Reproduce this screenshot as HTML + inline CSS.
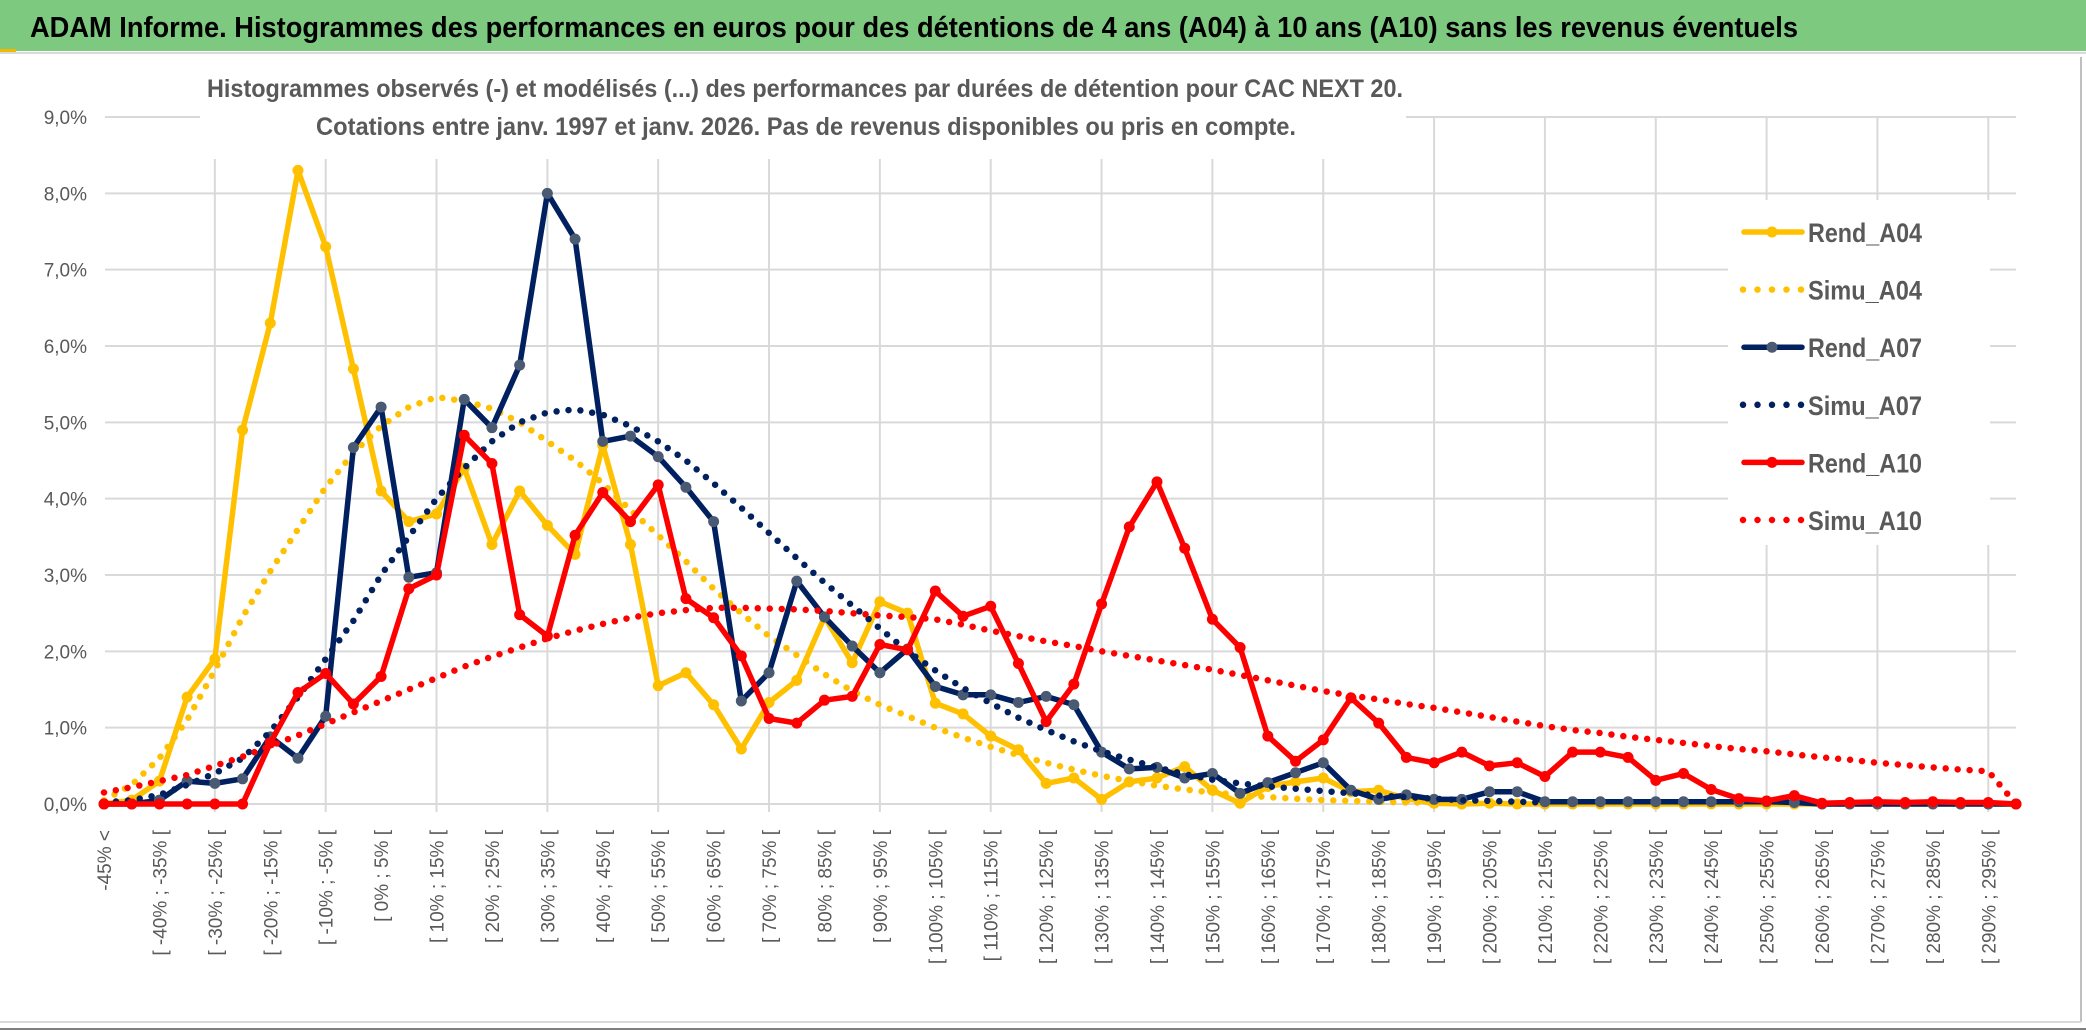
<!DOCTYPE html>
<html><head><meta charset="utf-8"><style>
html,body{margin:0;padding:0;background:#fff;}
svg{display:block;}
text{font-family:"Liberation Sans",sans-serif;}
</style></head><body>
<svg id="chart" width="2086" height="1031" viewBox="0 0 2086 1031" xmlns="http://www.w3.org/2000/svg">
<rect x="0" y="0" width="2086" height="1031" fill="#fff"/>
<rect x="0" y="0" width="2086" height="51" fill="#7dc97f"/>
<rect x="0" y="49" width="16" height="3" fill="#f2b800"/>
<text x="30" y="37" font-size="29" font-weight="bold" fill="#000" textLength="1768" lengthAdjust="spacingAndGlyphs">ADAM Informe. Histogrammes des performances en euros pour des détentions de 4 ans (A04) à 10 ans (A10) sans les revenus éventuels</text>
<line x1="0" y1="53" x2="2086" y2="53" stroke="#d9d9d9" stroke-width="2"/>
<line x1="2081" y1="57" x2="2081" y2="1022" stroke="#bfbfbf" stroke-width="2"/>
<line x1="0" y1="1022" x2="2081" y2="1022" stroke="#d9d9d9" stroke-width="2"/>
<line x1="0" y1="1029" x2="2086" y2="1029" stroke="#7f7f7f" stroke-width="2"/>
<g id="grid"></g>
<rect x="200" y="60" width="1206" height="99" fill="#fff"/>
<g id="ylabels"></g>
<g id="xlabels"></g>
<g id="series"></g>
<text x="805" y="97" font-size="25" font-weight="bold" fill="#595959" text-anchor="middle" textLength="1196" lengthAdjust="spacingAndGlyphs">Histogrammes observés (-) et modélisés (...) des performances par durées de détention pour CAC NEXT 20.</text>
<text x="806" y="135" font-size="25" font-weight="bold" fill="#595959" text-anchor="middle" textLength="980" lengthAdjust="spacingAndGlyphs">Cotations entre janv. 1997 et janv. 2026. Pas de revenus disponibles ou pris en compte.</text>
<rect x="1728" y="200" width="262" height="345" fill="#fff"/>
<g id="legend"></g>
</svg>
<script>
const categories = ["-45% <","[ -45% ; -40% [","[ -40% ; -35% [","[ -35% ; -30% [","[ -30% ; -25% [","[ -25% ; -20% [","[ -20% ; -15% [","[ -15% ; -10% [","[ -10% ; -5% [","[ -5% ; 0% [",
"[ 0% ; 5% [","[ 5% ; 10% [","[ 10% ; 15% [","[ 15% ; 20% [","[ 20% ; 25% [","[ 25% ; 30% [","[ 30% ; 35% [","[ 35% ; 40% [","[ 40% ; 45% [","[ 45% ; 50% [",
"[ 50% ; 55% [","[ 55% ; 60% [","[ 60% ; 65% [","[ 65% ; 70% [","[ 70% ; 75% [","[ 75% ; 80% [","[ 80% ; 85% [","[ 85% ; 90% [","[ 90% ; 95% [","[ 95% ; 100% [",
"[ 100% ; 105% [","[ 105% ; 110% [","[ 110% ; 115% [","[ 115% ; 120% [","[ 120% ; 125% [","[ 125% ; 130% [","[ 130% ; 135% [","[ 135% ; 140% [","[ 140% ; 145% [","[ 145% ; 150% [",
"[ 150% ; 155% [","[ 155% ; 160% [","[ 160% ; 165% [","[ 165% ; 170% [","[ 170% ; 175% [","[ 175% ; 180% [","[ 180% ; 185% [","[ 185% ; 190% [","[ 190% ; 195% [","[ 195% ; 200% [",
"[ 200% ; 205% [","[ 205% ; 210% [","[ 210% ; 215% [","[ 215% ; 220% [","[ 220% ; 225% [","[ 225% ; 230% [","[ 230% ; 235% [","[ 235% ; 240% [","[ 240% ; 245% [","[ 245% ; 250% [",
"[ 250% ; 255% [","[ 255% ; 260% [","[ 260% ; 265% [","[ 265% ; 270% [","[ 270% ; 275% [","[ 275% ; 280% [","[ 280% ; 285% [","[ 285% ; 290% [","[ 290% ; 295% [","[ 295% ; 300% ["];
const yTicks = [0,1,2,3,4,5,6,7,8,9];
const yTickLabels = ["0,0%","1,0%","2,0%","3,0%","4,0%","5,0%","6,0%","7,0%","8,0%","9,0%"];
const rendA04 = [0,0.05,0.3,1.4,1.9,4.9,6.3,8.3,7.3,5.7,4.1,3.7,3.8,4.4,3.4,4.1,3.65,3.27,4.7,3.4,1.55,1.72,1.3,0.72,1.33,1.62,2.45,1.85,2.65,2.5,1.32,1.18,0.89,0.71,0.27,0.34,0.06,0.29,0.34,0.49,0.18,0.01,0.23,0.29,0.34,0.16,0.18,0.07,0.01,0,0.01,0,0,0,0,0,0,0,0,0,0,0,0,0,0,0,0,0,0,0];
const simuA04 = [0.05,0.25,0.6,1.1,1.75,2.45,3.05,3.6,4.15,4.6,4.95,5.2,5.33,5.28,5.18,5.0,4.75,4.5,4.2,3.85,3.52,3.18,2.82,2.5,2.2,1.95,1.7,1.48,1.3,1.15,1.0,0.87,0.75,0.64,0.54,0.45,0.37,0.3,0.24,0.19,0.15,0.12,0.09,0.07,0.05,0.04,0.03,0.02,0.02,0.01,0.01,null,null,null,null,null,null,null,null,null,null,null,null,null,null,null,null,null,null,null];
const rendA07 = [0,0,0.05,0.3,0.27,0.33,0.88,0.6,1.15,4.67,5.2,2.97,3.03,5.3,4.93,5.75,8.0,7.4,4.75,4.82,4.55,4.15,3.7,1.35,1.72,2.92,2.45,2.07,1.72,2.03,1.54,1.43,1.43,1.33,1.41,1.3,0.68,0.46,0.48,0.34,0.4,0.14,0.28,0.41,0.54,0.18,0.06,0.12,0.06,0.06,0.16,0.16,0.03,0.03,0.03,0.03,0.03,0.03,0.03,0.03,0.03,0.02,0,0,0,0,0,0,0,0];
const simuA07 = [0.02,0.05,0.12,0.25,0.4,0.6,0.95,1.4,1.9,2.4,3.0,3.5,4.0,4.4,4.75,5.0,5.13,5.17,5.1,4.95,4.75,4.5,4.2,3.88,3.55,3.22,2.9,2.6,2.3,2.0,1.75,1.52,1.32,1.13,0.97,0.82,0.69,0.58,0.48,0.39,0.32,0.27,0.23,0.2,0.17,0.14,0.11,0.09,0.07,0.05,0.04,0.03,0.02,null,null,null,null,null,null,null,null,null,null,null,null,null,null,null,null,null];
const rendA10 = [0,0,0,0,0,0,0.8,1.46,1.71,1.31,1.67,2.82,3.0,4.83,4.46,2.48,2.2,3.52,4.08,3.7,4.18,2.69,2.44,1.94,1.12,1.06,1.36,1.41,2.09,2.02,2.79,2.46,2.59,1.84,1.08,1.57,2.62,3.63,4.22,3.35,2.42,2.05,0.89,0.56,0.84,1.39,1.06,0.61,0.54,0.68,0.5,0.54,0.36,0.68,0.68,0.61,0.31,0.4,0.19,0.07,0.04,0.11,0.01,0.02,0.03,0.02,0.03,0.02,0.02,0];
const simuA10 = [0.15,0.22,0.3,0.38,0.5,0.62,0.76,0.9,1.05,1.2,1.35,1.5,1.65,1.8,1.93,2.05,2.17,2.27,2.36,2.44,2.5,2.54,2.57,2.57,2.56,2.55,2.53,2.5,2.47,2.45,2.42,2.35,2.27,2.2,2.13,2.07,2.0,1.94,1.88,1.82,1.76,1.69,1.62,1.55,1.48,1.42,1.37,1.31,1.26,1.2,1.14,1.08,1.02,0.97,0.93,0.88,0.84,0.8,0.76,0.72,0.69,0.65,0.61,0.58,0.54,0.51,0.48,0.45,0.43,0.0];
const seriesNames = ["Rend_A04","Simu_A04","Rend_A07","Simu_A07","Rend_A10","Simu_A10"];

const NS = "http://www.w3.org/2000/svg";
const X0 = 104, X1 = 2016, Y0 = 804, Y9 = 117;
function xPos(i){ return X0 + (X1 - X0) * i / (categories.length - 1); }
function yPos(v){ return Y0 - (Y0 - Y9) * v / 9; }
function mk(tag, attrs, parent){ const e = document.createElementNS(NS, tag); for (const k in attrs) e.setAttribute(k, attrs[k]); parent.appendChild(e); return e; }

const grid = document.getElementById('grid');
yTicks.forEach(function(t){
  const l = mk('line', {x1: 105, x2: X1, y1: yPos(t), y2: yPos(t), stroke: '#d9d9d9', 'stroke-width': 2}, grid);
  
  
});
for (let i = 4; i < categories.length; i += 4) {
  const l = mk('line', {x1: xPos(i), x2: xPos(i), y1: Y9, y2: Y0 + 8, stroke: '#d9d9d9', 'stroke-width': 2}, grid);
  
  
}
const ylab = document.getElementById('ylabels');
yTicks.forEach(function(t, k){
  const tx = mk('text', {x: 87, y: yPos(t) + 7, 'font-size': 19, fill: '#595959', 'text-anchor': 'end'}, ylab);
  tx.textContent = yTickLabels[k];
  
  
});
const xlab = document.getElementById('xlabels');
categories.forEach(function(c, i){
  if (i % 2) return;
  const x = xPos(i) + 7, y = 830;
  const tx = mk('text', {x: x, y: y, 'font-size': 19, fill: '#595959', 'text-anchor': 'end', transform: 'rotate(-90 ' + x + ' ' + y + ')'}, xlab);
  tx.textContent = c;
  
  
});

const ser = document.getElementById('series');
function pathOf(arr){
  let d = '', started = false;
  arr.forEach(function(v, i){ if (v === null) { started = false; return; } d += (started ? 'L' : 'M') + xPos(i).toFixed(1) + ' ' + yPos(v).toFixed(1); started = true; });
  return d;
}
function drawSolid(arr, color, marker, name){
  const g = mk('g', {}, ser);
  
  
  const p = mk('path', {d: pathOf(arr), fill: 'none', stroke: color, 'stroke-width': 5.5, 'stroke-linejoin': 'round'}, g);
  
  
  arr.forEach(function(v, i){
    if (v === null) return;
    const c = mk('circle', {cx: xPos(i), cy: yPos(v), r: 5.5, fill: marker}, g);
    
    
  });
}
function drawDotted(arr, color, name){
  const p = mk('path', {d: pathOf(arr), fill: 'none', stroke: color, 'stroke-width': 6.5, 'stroke-linecap': 'round', 'stroke-dasharray': '0 12'}, ser);
  
  
}
drawSolid(rendA04, '#ffc000', '#ffc000', 'rend-a04');
drawDotted(simuA04, '#ffc000', 'simu-a04');
drawSolid(rendA07, '#002060', '#4a5a72', 'rend-a07');
drawDotted(simuA07, '#002060', 'simu-a07');
drawSolid(rendA10, '#ff0000', '#ff0000', 'rend-a10');
drawDotted(simuA10, '#ff0000', 'simu-a10');

const leg = document.getElementById('legend');
const legColors = ['#ffc000','#ffc000','#002060','#002060','#ff0000','#ff0000'];
const legMarkers = ['#ffc000',null,'#4a5a72',null,'#ff0000',null];
seriesNames.forEach(function(n, k){
  const y = 232 + k * 57.6;
  const g = mk('g', {}, leg);
  
  
  if (legMarkers[k]) {
    mk('line', {x1: 1744, x2: 1802, y1: y, y2: y, stroke: legColors[k], 'stroke-width': 5.5, 'stroke-linecap': 'round'}, g);
    mk('circle', {cx: 1772, cy: y, r: 5.5, fill: legMarkers[k]}, g);
  } else {
    mk('line', {x1: 1743, x2: 1802, y1: y, y2: y, stroke: legColors[k], 'stroke-width': 6.5, 'stroke-linecap': 'round', 'stroke-dasharray': '0 14.5'}, g);
  }
  const t = mk('text', {x: 1808, y: y + 10, 'font-size': 27, 'font-weight': 'bold', fill: '#595959', textLength: 114, lengthAdjust: 'spacingAndGlyphs'}, g);
  t.textContent = n;
});
</script>
</body></html>
